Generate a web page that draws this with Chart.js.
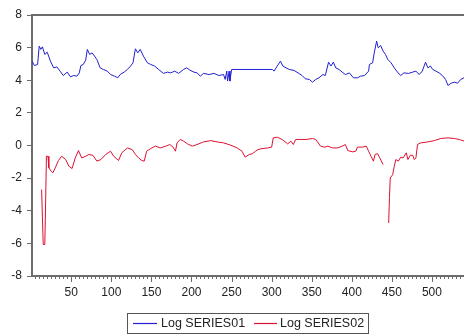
<!DOCTYPE html>
<html>
<head>
<meta charset="utf-8">
<script src="https://cdn.jsdelivr.net/npm/chart.js@4.4.0/dist/chart.umd.min.js"></script>
<style>
  body { margin: 0; background: #fff; }
</style>
</head>
<body>
<canvas id="grafico" width="464" height="335"></canvas>
<script>
// series names
serieNomes = ['Log SERIES01', 'Log SERIES02']
cores = ['#1f1fd0', '#dc1030']

// Log SERIES01 (observation, value)
s1X = [1, 4, 8, 10, 12, 14, 17, 20, 24, 28, 32, 36, 40, 45, 49, 53, 57, 60, 62, 65, 68, 70, 73, 76, 79, 82, 86, 90, 95, 99,
	104, 108, 111, 116, 120, 124, 127, 130, 133, 136, 140, 145, 149, 154, 159, 165, 170, 174, 179, 184, 190, 194, 198, 203, 207, 211, 215, 222, 228, 234,
	240, 242, 244, 245, 247, 248, 250, 301, 303, 307, 311, 314, 318, 322, 328, 333, 338, 342, 347, 351, 355, 359, 364, 367, 371, 374, 377, 380, 384, 388,
	392, 397, 402, 407, 411, 416, 421, 422, 426, 428, 431, 433, 436, 439, 442, 445, 449, 453, 457, 461, 465, 471, 476, 480, 484, 488, 492, 495, 498, 501,
	505, 509, 513, 517, 520, 524, 528, 532, 536, 540]
s1Y = [5.17, 4.90, 4.97, 6.09, 5.89, 6.05, 5.58, 5.72, 5.17, 4.76, 4.82, 4.56, 4.29, 4.50, 4.21, 4.29, 4.25, 4.45, 4.90, 4.97, 5.23, 5.89, 5.58, 5.68, 5.48, 5.27, 4.76, 4.66, 4.56, 4.35,
	4.25, 4.15, 4.35, 4.50, 4.66, 4.87, 5.07, 5.93, 5.68, 5.89, 5.48, 5.07, 4.97, 4.87, 4.66, 4.42, 4.50, 4.45, 4.56, 4.42, 4.66, 4.76, 4.62, 4.50, 4.45, 4.25, 4.42, 4.35, 4.42, 4.29,
	4.35, 4.05, 4.56, 3.95, 4.56, 3.95, 4.66, 4.66, 4.56, 4.87, 5.17, 4.87, 4.76, 4.66, 4.60, 4.45, 4.29, 4.09, 4.05, 3.88, 4.05, 4.15, 4.35, 4.29, 5.11, 4.87, 5.11, 4.76, 4.66, 4.50,
	4.35, 4.45, 4.15, 4.15, 4.25, 4.29, 4.56, 4.97, 5.07, 5.68, 6.40, 5.99, 6.13, 5.79, 5.58, 5.27, 5.07, 4.76, 4.50, 4.29, 4.45, 4.42, 4.50, 4.56, 4.35, 4.56, 5.11, 4.76, 4.87, 4.66,
	4.56, 4.45, 4.29, 4.05, 3.68, 3.82, 3.88, 3.82, 4.05, 4.15]

// Log SERIES02 (observation, value) - null = missing
s2X = [13, 14, 15, 17, 18, 19, 21, 22, 25, 27, 30, 34, 38, 43, 47, 51, 55, 59, 63, 68, 72, 77, 82, 87, 93, 99, 103, 109, 113, 120,
	126, 130, 134, 138, 141, 144, 149, 155, 161, 168, 173, 177, 180, 182, 186, 190, 195, 201, 207, 215, 224, 232, 240, 249, 257, 263, 267, 272, 276, 280,
	283, 288, 295, 300, 302, 307, 313, 320, 324, 327, 330, 336, 343, 351, 355, 361, 366, 370, 376, 382, 388, 392, 395, 401, 405, 407, 413, 418, 421, 424,
	427, 429, 432, 435, 439, 442, 446, 447, 448, 451, 453, 455, 458, 461, 464, 468, 470, 473, 476, 478, 480, 482, 486, 495, 503, 511, 520, 528, 534, 540]
s2Y = [-2.70, -4.40, -6.07, -6.07, -3.40, -0.66, -0.66, -1.37, -1.58, -1.68, -1.37, -0.92, -0.66, -0.86, -1.27, -1.41, -0.76, -0.31, -0.76, -0.66, -0.55, -0.60, -0.96, -0.86, -0.55, -0.35, -0.66, -0.92, -0.45, -0.15,
	-0.25, -0.55, -0.76, -0.92, -0.96, -0.35, -0.19, -0.04, -0.15, -0.04, 0.06, -0.10, -0.35, 0.16, 0.37, 0.27, 0.10, -0.04, 0.06, 0.22, 0.30, 0.22, 0.16, 0.02, -0.15, -0.35, -0.72, -0.55, -0.50, -0.35,
	-0.25, -0.19, -0.15, -0.10, 0.47, 0.51, 0.37, 0.10, 0.27, 0.06, 0.37, 0.37, 0.37, 0.43, 0.37, -0.04, -0.10, -0.04, -0.15, -0.15, -0.04, 0.06, -0.31, -0.39, -0.35, -0.10, -0.10, -0.04, -0.35, -0.66,
	-0.96, -0.55, -0.50, -0.76, -1.17, null, -4.75, -3.20, -1.99, -1.79, -1.27, -0.86, -0.96, -0.72, -0.76, -0.45, -0.86, -0.60, -0.60, -0.86, -0.76, 0.06, 0.16, 0.22, 0.30, 0.43, 0.47, 0.43, 0.37, 0.27]

// axis ticks
yTicks = [-8, -6, -4, -2, 0, 2, 4, 6, 8]
xMajor = [50, 100, 150, 200, 250, 300, 350, 400, 450, 500]
xMin = 1
xMax = 540

function pares(xs, ys) {
	var out = []
	for (var i = 0; i < xs.length; i++) out.push({ x: xs[i], y: ys[i] })
	return out
}

var corEixo = '#6c6c6c'
var fonte = '"Liberation Sans", Arial, sans-serif'

// moldura de cima, ticks menores do eixo x e legenda com caixa
var extras = {
	id: 'extras',
	afterDraw(chart) {
		var ctx = chart.ctx
		var area = chart.chartArea
		var sx = chart.scales.x
		ctx.save()
		// top frame line
		ctx.strokeStyle = corEixo
		ctx.lineWidth = 2
		ctx.beginPath()
		ctx.moveTo(area.left - 1, area.top)
		ctx.lineTo(chart.width, area.top)
		ctx.stroke()
		// minor ticks every 5
		ctx.lineWidth = 1
		ctx.beginPath()
		for (var v = 5; v <= xMax; v += 5) {
			var px = Math.round(sx.getPixelForValue(v)) + 0.5
			var len = (v % 50 === 0) ? 6 : 3
			ctx.moveTo(px, area.bottom)
			ctx.lineTo(px, area.bottom + len)
		}
		ctx.stroke()
		// legend
		ctx.strokeStyle = '#555'
		ctx.lineWidth = 1
		ctx.strokeRect(127.5, 313.5, 241, 20)
		ctx.font = '12.5px ' + fonte
		ctx.fillStyle = '#222'
		ctx.textBaseline = 'middle'
		var itens = [{ l1: 133, l2: 157, tx: 161 }, { l1: 254, l2: 277, tx: 280 }]
		for (var i = 0; i < serieNomes.length; i++) {
			ctx.strokeStyle = cores[i]
			ctx.lineWidth = 1.2
			ctx.beginPath()
			ctx.moveTo(itens[i].l1, 323.5)
			ctx.lineTo(itens[i].l2, 323.5)
			ctx.stroke()
			ctx.fillText(serieNomes[i], itens[i].tx, 324)
		}
		ctx.restore()
	}
}

var config = {
	type: 'line',
	data: {
		datasets: [{
			label: serieNomes[0],
			data: pares(s1X, s1Y),
			borderColor: cores[0],
			borderWidth: 1,
			pointRadius: 0,
			tension: 0
		}, {
			label: serieNomes[1],
			data: pares(s2X, s2Y),
			borderColor: cores[1],
			borderWidth: 1,
			pointRadius: 0,
			tension: 0,
			spanGaps: false
		}]
	},
	options: {
		responsive: false,
		animation: false,
		layout: { padding: { top: 15, left: 0, right: 0, bottom: 35 } },
		plugins: {
			legend: { display: false },
			tooltip: { enabled: false }
		},
		scales: {
			x: {
				type: 'linear',
				min: xMin,
				max: xMax,
				afterFit: function (s) { s.height = 24 },
				afterBuildTicks: function (s) { s.ticks = xMajor.map(function (v) { return { value: v } }) },
				border: { color: corEixo, width: 2 },
				grid: { drawOnChartArea: false, drawTicks: true, tickLength: 6, tickColor: 'rgba(0,0,0,0)' },
				ticks: { padding: 3, color: '#222', font: { size: 12, family: fonte }, maxRotation: 0, autoSkip: false }
			},
			y: {
				min: -8,
				max: 8,
				afterFit: function (s) { s.width = 32 },
				afterBuildTicks: function (s) { s.ticks = yTicks.map(function (v) { return { value: v } }) },
				border: { color: corEixo, width: 2 },
				grid: { drawOnChartArea: false, drawTicks: true, tickLength: 5, tickColor: corEixo, tickWidth: 1 },
				ticks: { padding: 5, color: '#222', font: { size: 12, family: fonte } }
			}
		}
	},
	plugins: [extras]
}

var ctx = document.getElementById('grafico').getContext('2d')
window.grafico = new Chart(ctx, config)
</script>
</body>
</html>
